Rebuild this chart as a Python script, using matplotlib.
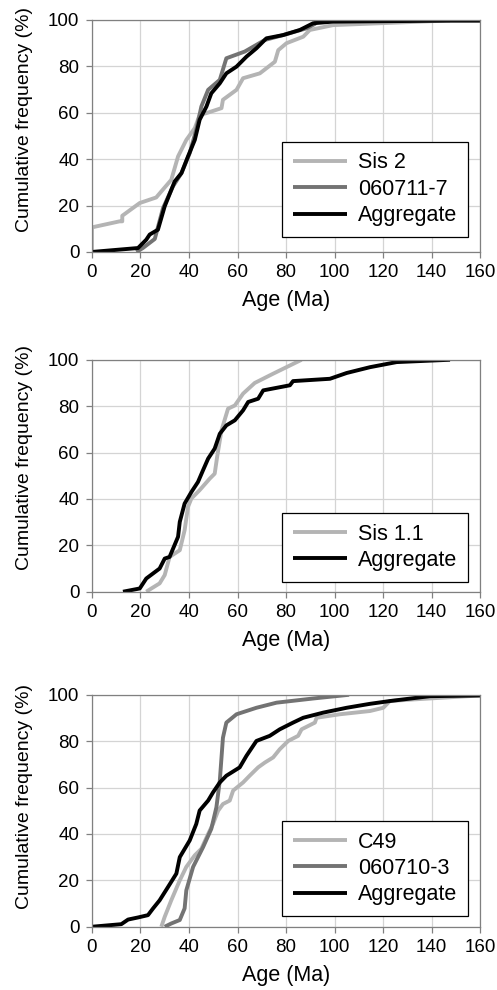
import numpy as np
import matplotlib
matplotlib.use("Agg")
import matplotlib.pyplot as plt

plt.rcParams["font.family"] = ["Liberation Sans", "DejaVu Sans"]

# panel 1
sis2_age = [0, 0, 11.4, 12.5, 12.5, 19.7, 26.5, 28.6, 32.7, 35.5, 38.9, 42.4, 44.4, 47, 53.4, 54,
            59.6, 62.3, 69.2, 75.4, 76.8, 80.2, 87.1, 89.8, 99.4, 118.7, 147.6]
sis2_cf = [0, 10.6, 13.2, 13.2, 15.6, 21.1, 23.5, 26.1, 31.1, 41.2, 48.3, 53.4, 59.1, 59.8, 62, 65.6,
           69.9, 74.9, 77, 82, 87, 90, 92.8, 95.7, 97.8, 98.6, 99.8]
s0711_age = [18.3, 21, 25.9, 29.3, 33.4, 36.9, 40.3, 43, 45.1, 47.9, 52.7, 55.4, 63, 71.3, 78.8,
             88.4, 91.9, 92.8]
s0711_cf = [0, 1.7, 5.6, 18.9, 28.3, 34, 42.6, 52.7, 62.7, 69.9, 74.2, 83.5, 86.4, 91.4, 93.5,
            96.4, 98.3, 100]
agg1_age = [0, 19, 22.4, 23.8, 27.2, 30, 34.1, 36.9, 39.6, 42.4, 44.4, 47.2, 49.2, 52.7, 55.4,
            59.6, 63.7, 67.8, 71.9, 78.8, 85.7, 91.2, 99.4, 146, 160]
agg1_cf = [0, 1.7, 5.3, 7.5, 9.6, 19.7, 30.4, 34, 41.2, 48.3, 57, 62.7, 68.4, 72.7, 77,
           79.9, 84.2, 87.8, 92.1, 93.5, 95.7, 98.6, 99.3, 99.7, 99.7]

# panel 2
sis11_age = [22.4, 24.5, 27.9, 30, 32, 36.2, 38.2, 39.6, 41, 44.4, 48.6, 50.6, 51.6, 53.4, 56.1,
             58.9, 62.3, 67.1, 74.7, 86.4]
sis11_cf = [0, 1.4, 3.6, 7.2, 15, 17.9, 26.5, 36.6, 40.2, 43.8, 48.8, 50.9, 58.1, 69.6, 78.9,
            80.3, 85.4, 90, 94, 100]
agg2_age = [12.8, 19.7, 22.4, 27.9, 30, 32, 35.5, 36.2, 38.2, 41, 43.7, 45.8, 47.9, 50.6, 52.7,
            55.4, 58.9, 62.3, 64.4, 68.5, 70.6, 81.6, 82.9, 98.1, 105, 114.6, 125.6, 147.6]
agg2_cf = [0, 1.4, 5.7, 10, 14.3, 15, 23.7, 30.1, 38, 43, 47.3, 52.4, 57.4, 61.7, 68.1,
           71.7, 73.9, 78.2, 81.8, 83.2, 86.8, 89, 90.8, 91.8, 94.3, 96.8, 99, 100]

# panel 3
c49_age = [28.6, 30, 32.7, 36.2, 38.9, 42.4, 45.1, 47.9, 49.9, 52, 54, 56.8, 58.2, 62.3, 65,
           68.5, 71.3, 74.7, 77.4, 80.9, 85, 86.4, 91.9, 92.6, 102.2, 114.6, 120.1, 122.8, 132.5, 160]
c49_cf = [0, 4.3, 11.4, 20, 25.8, 30.8, 33.6, 40, 44.3, 50, 52.9, 54.4, 58.7, 62.2, 65.1,
          68.7, 70.8, 73, 76.5, 80.1, 82.3, 85.1, 88, 90.1, 91.6, 93, 94.4, 97.3, 98, 99.7]
s0710_age = [30, 32.7, 36.2, 38.2, 38.9, 41.7, 45.8, 49.2, 51.3, 52.7, 54, 55.4, 59.6, 67.8,
             76.1, 91.2, 106]
s0710_cf = [0, 1.4, 2.9, 7.9, 15.7, 25.8, 34.3, 42.2, 51.5, 62.9, 81.5, 88, 91.6, 94.4,
            96.6, 98.4, 100]
agg3_age = [0, 12.1, 14.9, 19, 23.1, 25.2, 27.9, 31.4, 34.8, 36.2, 40.3, 43, 44.4, 47.9, 49.9,
            52.7, 55.4, 60.9, 63.7, 67.8, 73.3, 77.4, 82.9, 87.1, 95.3, 105, 114.6, 122.8, 139.3, 160]
agg3_cf = [0, 1.1, 3.1, 4, 5, 7.9, 11.4, 17.2, 22.9, 30, 37.2, 44.3, 50.1, 54.4, 57.9,
           62.2, 65.1, 68.7, 73.7, 80.1, 82.3, 85.1, 88, 90.1, 92.3, 94.4, 96.1, 97.3, 99.4, 99.7]

light = "#b4b4b4"
dark = "#737373"
black = "#000000"

panels = [
    [("Sis 2", sis2_age, sis2_cf, light), ("060711-7", s0711_age, s0711_cf, dark),
     ("Aggregate", agg1_age, agg1_cf, black)],
    [("Sis 1.1", sis11_age, sis11_cf, light), ("Aggregate", agg2_age, agg2_cf, black)],
    [("C49", c49_age, c49_cf, light), ("060710-3", s0710_age, s0710_cf, dark),
     ("Aggregate", agg3_age, agg3_cf, black)],
]
bottoms = [0.7455, 0.4023, 0.0639]
leg_y = [0.065, 0.043, 0.046]
ylab_y = [0.569, 0.578, 0.562]

fig = plt.figure(figsize=(4.97, 9.9), dpi=100)
for series, b, ly, yl in zip(panels, bottoms, leg_y, ylab_y):
    ax = fig.add_axes([0.185, b, 0.781, 0.2343])
    for name, x, y, c in series:
        ax.plot(x, y, color=c, lw=2.8, label=name, solid_joinstyle="round",
                solid_capstyle="butt")
    ax.set_xlim(0, 160)
    ax.set_ylim(0, 100)
    ax.set_xticks(np.arange(0, 161, 20))
    ax.set_yticks(np.arange(0, 101, 20))
    ax.grid(True, color="#d4d4d4", lw=0.9)
    ax.set_axisbelow(True)
    for s in ax.spines.values():
        s.set_color("#808080")
        s.set_linewidth(0.9)
    ax.tick_params(labelsize=13.5, length=4, color="#808080", width=0.9, pad=5)
    ax.set_xlabel("Age (Ma)", fontsize=15.5)
    ax.set_ylabel("Cumulative frequency (%)", fontsize=14)
    ax.xaxis.set_label_coords(0.5, -0.166)
    ax.yaxis.set_label_coords(-0.152, yl)
    leg = ax.legend(loc="lower right", bbox_to_anchor=(0.968, ly), borderaxespad=0,
                    fontsize=15.5, handlelength=2.5, handletextpad=0.5, fancybox=False,
                    framealpha=1, edgecolor="black", labelspacing=0.25, borderpad=0.5)
    leg.get_frame().set_linewidth(0.9)

plt.savefig("out.png", dpi=100)
